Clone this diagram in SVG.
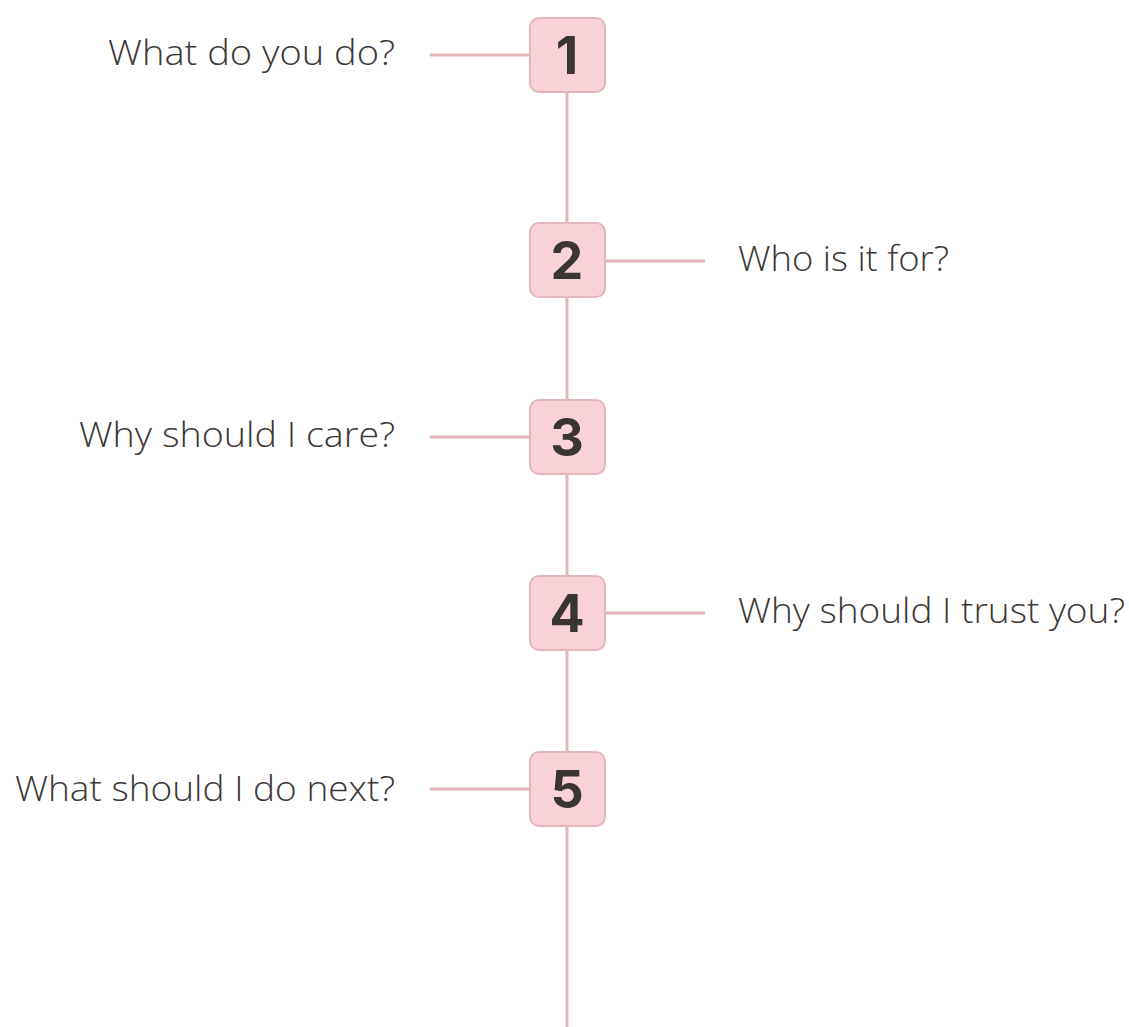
<svg xmlns="http://www.w3.org/2000/svg" width="1129" height="1027" viewBox="0 0 1129 1027">
<style>
.ln{stroke:#e2b6ba;stroke-width:3;fill:none;stroke-linecap:round}
.box{fill:#f8d2d6;stroke:#e2b6ba;stroke-width:2}
.num{font-family:"Inter","Liberation Sans",sans-serif;font-weight:700;font-size:52px;fill:#3a3434;text-anchor:middle;dominant-baseline:central}
.lbl{font-family:"Open Sans","Liberation Sans",sans-serif;font-weight:300;font-size:34px;fill:#3d3737;dominant-baseline:central}
.l{text-anchor:end}
</style>
<rect width="1129" height="1027" fill="#ffffff"/>
<g id="connectors">
<line class="ln" x1="567" y1="92" x2="567" y2="1027" style="stroke-linecap:butt"/>
<line class="ln" x1="431" y1="55" x2="530" y2="55"/>
<line class="ln" x1="605" y1="261" x2="704" y2="261"/>
<line class="ln" x1="431" y1="437" x2="530" y2="437"/>
<line class="ln" x1="605" y1="613" x2="704" y2="613"/>
<line class="ln" x1="431" y1="789" x2="530" y2="789"/>
</g>
<g id="node1"><rect class="box" x="530" y="18" width="75" height="74" rx="9"/><text class="num" x="567" y="55">1</text><text class="lbl l" x="395" y="52" textLength="287" lengthAdjust="spacingAndGlyphs">What do you do?</text></g>
<g id="node2"><rect class="box" x="530" y="223" width="75" height="74" rx="9"/><text class="num" x="567" y="260">2</text><text class="lbl" x="738" y="258" textLength="211" lengthAdjust="spacingAndGlyphs">Who is it for?</text></g>
<g id="node3"><rect class="box" x="530" y="400" width="75" height="74" rx="9"/><text class="num" x="567" y="437">3</text><text class="lbl l" x="395" y="434" textLength="316" lengthAdjust="spacingAndGlyphs">Why should I care?</text></g>
<g id="node4"><rect class="box" x="530" y="576" width="75" height="74" rx="9"/><text class="num" x="567" y="613">4</text><text class="lbl" x="738" y="610" textLength="387" lengthAdjust="spacingAndGlyphs">Why should I trust you?</text></g>
<g id="node5"><rect class="box" x="530" y="752" width="75" height="74" rx="9"/><text class="num" x="567" y="789">5</text><text class="lbl l" x="395" y="788" textLength="380" lengthAdjust="spacingAndGlyphs">What should I do next?</text></g>
</svg>
